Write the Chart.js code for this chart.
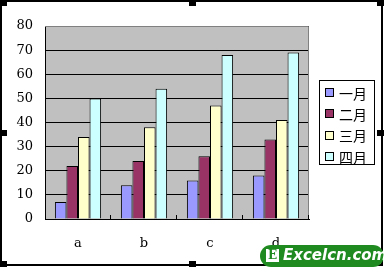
<!DOCTYPE html>
<html>
<head>
<meta charset="utf-8">
<script src="https://cdn.jsdelivr.net/npm/chart.js@4"></script>
<style>
  body { margin: 0; background: #fff; }
  #wrap { width: 384px; height: 267px; }
</style>
</head>
<body>
<div id="wrap"><canvas id="barChart" width="384" height="267"></canvas></div>
<script>
const CHART = document.getElementById('barChart')

const categories = ['a', 'b', 'c', 'd']
const seriesNames = ['一月', '二月', '三月', '四月']
const jan = [7, 14, 16, 18]
const feb = [22, 24, 26, 33]
const mar = [34, 38, 47, 41]
const apr = [50, 54, 68, 69]
const yTicks = [0, 10, 20, 30, 40, 50, 60, 70, 80]

const colors = ['#9999FF', '#993366', '#FFFFCC', '#CCFFFF']

// gray plot area, outer frame, handles, legend box, logo
const decor = {
    id: 'decor',
    beforeDraw(chart) {
        const ctx = chart.ctx
        const a = chart.chartArea
        ctx.save()
        ctx.fillStyle = '#fff'
        ctx.fillRect(0, 0, chart.width, chart.height)
        ctx.fillStyle = '#C0C0C0'
        ctx.fillRect(a.left, a.top, a.right - a.left, a.bottom - a.top)
        ctx.restore()
    },
    afterDraw(chart) {
        const ctx = chart.ctx
        const a = chart.chartArea
        ctx.save()
        // plot border top/right gray
        ctx.strokeStyle = '#808080'
        ctx.lineWidth = 1
        ctx.beginPath()
        ctx.moveTo(a.left, a.top + 0.5)
        ctx.lineTo(a.right - 0.5, a.top + 0.5)
        ctx.lineTo(a.right - 0.5, a.bottom)
        ctx.stroke()

        // small tick marks between categories
        const xs = chart.scales.x
        ctx.strokeStyle = '#000'
        for (let i = 1; i <= categories.length; i++) {
            const x = Math.round(xs.left + i * (xs.width / categories.length)) - 0.5
            ctx.beginPath()
            ctx.moveTo(x, a.bottom - 4)
            ctx.lineTo(x, a.bottom)
            ctx.stroke()
        }

        // legend
        ctx.fillStyle = '#fff'
        ctx.fillRect(319, 80, 55, 84)
        ctx.strokeRect(319.5, 80.5, 55, 84)
        ctx.font = '14px "Noto Sans CJK SC"'
        ctx.textBaseline = 'middle'
        chart.data.datasets.forEach((ds, i) => {
            const y = 92.5 + i * 21.3
            ctx.fillStyle = ds.backgroundColor
            ctx.fillRect(325, Math.round(y - 4.5), 9, 9)
            ctx.strokeRect(325.5, Math.round(y - 4.5) + 0.5, 8, 8)
            ctx.fillStyle = '#000'
            ctx.fillText(ds.label, 339, y + 1)
        })

        // outer frame
        ctx.lineWidth = 2
        ctx.strokeRect(1, 1, 381, 264)
        ctx.fillStyle = '#000'
        const h = [[0, 0], [189, 0], [377, 0], [0, 130], [377, 130], [0, 261], [189, 261]]
        h.forEach(p => ctx.fillRect(p[0], p[1], 7, 6))

        // logo
        ctx.fillStyle = '#1f8a1f'
        ctx.beginPath()
        ctx.roundRect(260, 245, 124, 22, 11)
        ctx.fill()
        ctx.fillStyle = '#fff'
        ctx.fillRect(266, 249, 13, 13)
        ctx.fillStyle = '#1f8a1f'
        ctx.font = 'bold 12px "DejaVu Serif"'
        ctx.textAlign = 'center'
        ctx.fillText('E', 272.5, 256)
        ctx.fillStyle = '#fff'
        ctx.font = 'italic bold 15px "DejaVu Sans"'
        ctx.textAlign = 'left'
        ctx.fillText('Excelcn.com', 283, 256.5)
        ctx.restore()
    }
}

let barChart = new Chart(CHART, {
    type: 'bar',
    data: {
        labels: categories,
        datasets: [jan, feb, mar, apr].map((d, i) => ({
            label: seriesNames[i],
            data: d,
            backgroundColor: colors[i],
            borderColor: '#000',
            borderWidth: 1,
            categoryPercentage: 0.7,
            barPercentage: 1.0
        }))
    },
    options: {
        responsive: false,
        animation: false,
        layout: { padding: { top: 26, right: 75, left: 0, bottom: 0 } },
        plugins: {
            legend: { display: false },
            tooltip: { enabled: false }
        },
        scales: {
            x: {
                grid: { display: false },
                border: { color: '#000', width: 1 },
                ticks: { color: '#000', font: { family: 'DejaVu Serif', size: 13 }, padding: 9 },
                afterFit: s => { s.height = 48 }
            },
            y: {
                min: 0,
                max: 80,
                afterBuildTicks: s => { s.ticks = yTicks.map(v => ({ value: v })) },
                grid: { color: '#000', drawTicks: false },
                border: { color: '#000', width: 1 },
                ticks: { color: '#000', font: { family: 'DejaVu Serif', size: 13 }, padding: 12 },
                afterFit: s => { s.width = 45 }
            }
        }
    },
    plugins: [decor]
})
</script>
</body>
</html>
